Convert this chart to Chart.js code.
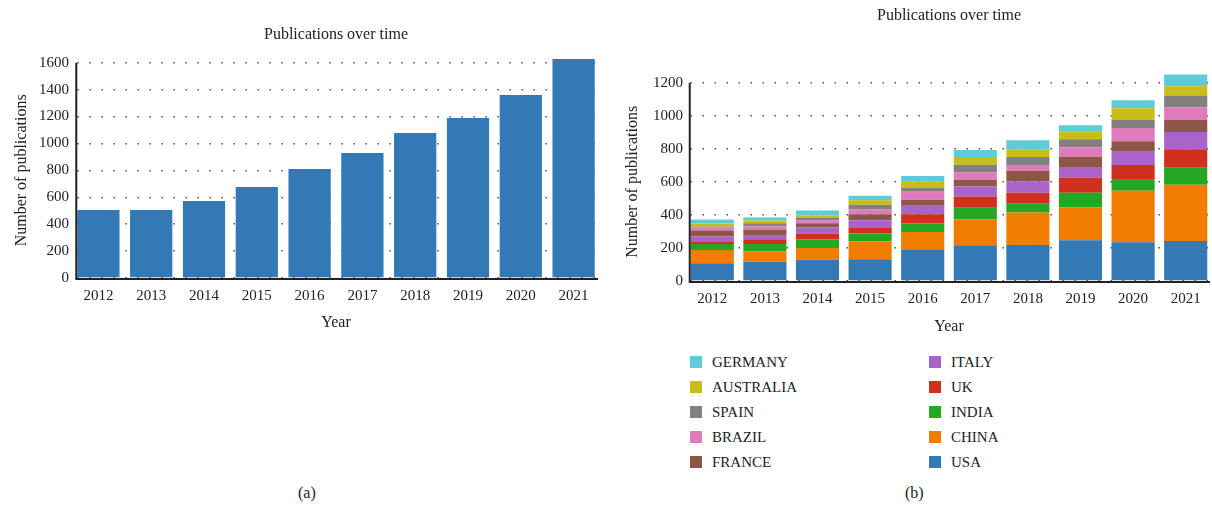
<!DOCTYPE html>
<html><head><meta charset="utf-8">
<script src="https://cdn.jsdelivr.net/npm/chart.js@4"></script>
<style>
html,body{margin:0;padding:0;background:#fff;}
body{width:1212px;height:506px;position:relative;overflow:hidden;font-family:'Liberation Serif',serif;color:#222;}
#ca{position:absolute;left:0;top:0;}
#cb{position:absolute;left:606px;top:0;}
.cap{position:absolute;top:483px;font-size:16px;line-height:20px;}
.li{position:absolute;font-size:15px;line-height:18px;white-space:nowrap;}
.sw{position:absolute;width:12px;height:12px;}
</style>
</head><body>
<canvas id="ca" width="606" height="332"></canvas>
<canvas id="cb" width="606" height="336"></canvas>
<div id="legend"></div>
<div class="cap" style="left:298px">(a)</div>
<div class="cap" style="left:905px">(b)</div>
<script>
// ---- data ----
const years = ['2012','2013','2014','2015','2016','2017','2018','2019','2020','2021'];
const totalPublications = [505, 505, 572, 676, 810, 929, 1077, 1189, 1360, 1627];
const countries = ['USA','CHINA','INDIA','UK','ITALY','FRANCE','BRAZIL','SPAIN','AUSTRALIA','GERMANY'];
const usa       = [108, 116, 128, 132, 188, 216, 218, 246, 234, 242];
const china     = [ 80,  64,  72, 108, 108, 156, 196, 200, 312, 340];
const india     = [ 36,  44,  52,  48,  52,  72,  56,  88,  72, 104];
const uk        = [ 12,  28,  36,  32,  56,  68,  64,  92,  84, 112];
const italy     = [ 34,  26,  36,  48,  52,  60,  68,  64,  84, 104];
const france    = [ 36,  34,  26,  36,  36,  40,  64,  60,  60,  72];
const brazil    = [ 18,  20,  18,  28,  48,  44,  36,  60,  80,  76];
const spain     = [  6,  18,  16,  30,  24,  48,  48,  48,  48,  72];
const australia = [ 18,  16,  12,  26,  36,  40,  48,  48,  72,  56];
const germany   = [ 24,  18,  30,  28,  36,  48,  54,  37,  48,  72];
const yTicksA = [0,200,400,600,800,1000,1200,1400,1600];
const yTicksB = [0,200,400,600,800,1000,1200];

const countryValues = [usa, china, india, uk, italy, france, brazil, spain, australia, germany];
const countryColors = ['#3279b5','#f07c00','#24a722','#d12f1f','#aa63c8','#8e5646','#e07bbb','#848080','#c7bf17','#5ecbd9'];

const FONT = "'Liberation Serif', serif";
const INK = '#222';

const axisLinePlugin = {
  id: 'axisLine',
  afterDatasetsDraw(chart) {
    const meta = chart.getDatasetMeta(0);
    const bar = meta.data[0];
    const x = bar.x - bar.width / 2 - 1;
    const {top, bottom, right} = chart.chartArea;
    const ctx = chart.ctx;
    ctx.save();
    ctx.strokeStyle = INK;
    ctx.lineWidth = 2;
    ctx.beginPath();
    ctx.moveTo(x, top);
    ctx.lineTo(x, bottom + 1);
    ctx.lineTo(right - 2, bottom + 1);
    ctx.stroke();
    ctx.restore();
  }
};

function makeOptions(cfg) {
  return {
    responsive: false,
    animation: false,
    layout: { padding: { left: cfg.padLeft, right: cfg.padRight, top: 0, bottom: 0 } },
    plugins: {
      legend: { display: false },
      tooltip: { enabled: false },
      title: {
        display: true, text: 'Publications over time', color: INK,
        fullSize: false,
        font: { family: FONT, size: 16, weight: 'normal' },
        padding: cfg.titlePad
      }
    },
    scales: {
      x: {
        stacked: cfg.stacked,
        grid: { display: false },
        border: { display: false },
        ticks: { color: INK, font: { family: FONT, size: 15 }, padding: 1, maxRotation: 0 },
        title: { display: true, text: 'Year', color: INK, font: { family: FONT, size: 16 }, padding: { top: 4, bottom: 0 } },
        afterFit(s) { s.height = cfg.xHeight; }
      },
      y: {
        stacked: cfg.stacked,
        min: 0, max: cfg.yMax,
        afterBuildTicks(s) { s.ticks = cfg.yTicks.map(v => ({ value: v })); },
        grid: { drawTicks: false, color: '#444', lineWidth: 1.4 },
        border: { display: false, dash: [1.4, 10.6], dashOffset: cfg.dashOffset },
        ticks: { color: INK, font: { family: FONT, size: 15 }, padding: 3, callback: v => String(v) },
        title: { display: true, text: 'Number of publications', color: INK, font: { family: FONT, size: 16 }, padding: { top: 0, bottom: 2 } },
        afterFit(s) { s.width = cfg.yWidth; }
      }
    }
  };
}

new Chart(document.getElementById('ca'), {
  type: 'bar',
  data: {
    labels: years,
    datasets: [{ label: 'Publications', data: totalPublications, backgroundColor: '#3279b5', barPercentage: 0.8, categoryPercentage: 1.0, clip: false }]
  },
  options: makeOptions({ stacked: false, yMax: 1600, yTicks: yTicksA, padLeft: 12, padRight: 6, yWidth: 60, xHeight: 54, dashOffset: 6.6, titlePad: { top: 25, bottom: 18.5 } }),
  plugins: [axisLinePlugin]
});

new Chart(document.getElementById('cb'), {
  type: 'bar',
  data: {
    labels: years,
    datasets: countries.map((c, i) => ({ label: c, data: countryValues[i], backgroundColor: countryColors[i], barPercentage: 0.82, categoryPercentage: 1.0, clip: false }))
  },
  options: makeOptions({ stacked: true, yMax: 1200, yTicks: yTicksB, padLeft: 17, padRight: 0, yWidth: 63, xHeight: 55, dashOffset: 7.5, titlePad: { top: 6, bottom: 57.5 } }),
  plugins: [axisLinePlugin]
});

// legend (two columns, column-major, top of stack first)
const legend = document.getElementById('legend');
const order = countries.map((c, i) => i).reverse();
order.forEach((idx, k) => {
  const col = Math.floor(k / 5), row = k % 5;
  const x0 = col === 0 ? 690 : 929;
  const yc = 361.7 + row * 25;
  const sw = document.createElement('div');
  sw.className = 'sw';
  sw.style.left = x0 + 'px';
  sw.style.top = (yc - 6) + 'px';
  sw.style.background = countryColors[idx];
  legend.appendChild(sw);
  const t = document.createElement('div');
  t.className = 'li';
  t.style.left = (x0 + 22) + 'px';
  t.style.top = (yc - 9) + 'px';
  t.textContent = countries[idx];
  legend.appendChild(t);
});
</script>
</body></html>
